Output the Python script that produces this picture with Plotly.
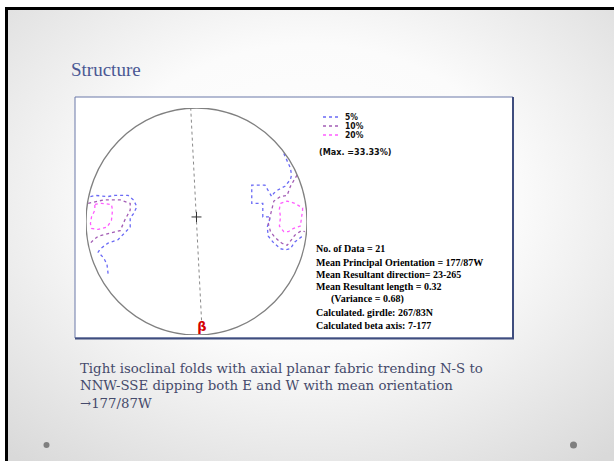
import base64
import numpy as np
import plotly.graph_objects as go

W, H = 614, 461

# ---------------- text content ----------------
title_text = "Structure"
legend_labels = ["5%", "10%", "20%"]
legend_colors = ["#6a6af5", "#a35db5", "#ff5cff"]
max_label = "(Max. =33.33%)"
stats_lines = [
    "No. of Data = 21",
    "Mean Principal Orientation = 177/87W",
    "Mean Resultant direction= 23-265",
    "Mean Resultant length = 0.32",
    "(Variance = 0.68)",
    "Calculated. girdle: 267/83N",
    "Calculated beta axis: 7-177",
]
body_lines = [
    "Tight isoclinal folds with axial planar fabric trending N-S to",
    "NNW-SSE dipping both E and W with mean orientation",
    "\u2192177/87W",
]

# ---------------- stereonet data (x = East, y = North, % of primitive radius) ----------------
c5_w_x = [-96, -92, -80, -74, -62, -57, -54, -57, -60, -60, -65, -71, -80, -87, -89, -84, -81, -80]
c5_w_y = [22, 23, 22, 23, 23, 19, 13, 7, 3, -5, -10, -16, -19, -24, -27, -32, -38, -46]
c10_w_x = [-98, -84, -69, -60, -60, -65, -69, -78, -89, -93, -96]
c10_w_y = [16, 19, 19, 16, 10, 1, -8, -10, -13, -16, -19]
c20_w_x = [-92, -86, -77, -76, -77, -81, -89, -95, -96, -95, -92, -92]
c20_w_y = [15, 16, 15, 10, 1, -5, -7, -6, -2, 4, 10, 15]

c5_e_x = [79, 82, 85, 86, 85, 80, 74, 70, 68, 62, 50, 50, 60, 60, 67, 64, 65, 70, 76, 80, 85, 89, 97]
c5_e_y = [60, 54, 47, 41, 37, 31, 28, 25, 22, 32, 32, 16, 16, 4, 4, -5, -13, -19, -24, -25, -24, -18, -12]
c10_e_x = [91, 87, 85, 82, 76, 70, 68, 65, 67, 71, 77, 82, 86, 89, 95, 98]
c10_e_y = [41, 34, 31, 23, 22, 18, 10, -2, -9, -14, -19, -21, -16, -12, -8, -9]
c20_e_x = [76, 82, 89, 96, 96, 95, 94, 88, 83, 79, 75, 76, 75, 76]
c20_e_y = [16, 18, 16, 12, 10, 3, -4, -6, -9, -9, -4, 4, 11, 16]

axial_strike = 177          # mean principal orientation 177/87W
beta_trend, beta_plunge = 177, 7


def px(x):
    return x / W


def py(y):
    return 1 - y / H


def schmidt(trend, plunge):
    r = 100 * np.sqrt(2) * np.sin(np.radians(90 - plunge) / 2)
    return r * np.sin(np.radians(trend)), r * np.cos(np.radians(trend))


fig = go.Figure()

# contours
contours = [
    (c5_w_x, c5_w_y, legend_colors[0]),
    (c5_e_x, c5_e_y, legend_colors[0]),
    (c10_w_x, c10_w_y, legend_colors[1]),
    (c10_e_x, c10_e_y, legend_colors[1]),
    (c20_w_x, c20_w_y, legend_colors[2]),
    (c20_e_x, c20_e_y, legend_colors[2]),
]
for cx, cy, col in contours:
    fig.add_trace(go.Scatter(x=cx, y=cy, mode="lines",
                             line=dict(color=col, width=1.3, dash="dot"),
                             hoverinfo="skip", showlegend=False))

# axial plane trace (straight, from beyond North down to beta)
bx, by = schmidt(beta_trend, beta_plunge)
top_az = (axial_strike + 180) % 360
tx, ty = 111 * np.sin(np.radians(top_az)), 111 * np.cos(np.radians(top_az))
fig.add_trace(go.Scatter(x=[tx, bx * 0.93], y=[ty, by * 0.93], mode="lines",
                         line=dict(color="#8a8a8a", width=1, dash="dot"),
                         hoverinfo="skip", showlegend=False))
fig.add_trace(go.Scatter(x=[bx], y=[by], mode="text", text=["<b>\u03b2</b>"],
                         textfont=dict(color="#d40000", size=13, family="DejaVu Sans"),
                         textposition="middle center",
                         hoverinfo="skip", showlegend=False))

# ---------------- background ----------------
svg = ('<svg xmlns="http://www.w3.org/2000/svg" width="609" height="454">'
       '<defs><radialGradient id="g" cx="50%" cy="42%" r="75%">'
       '<stop offset="0" stop-color="#ffffff"/><stop offset="0.45" stop-color="#fbfbfb"/>'
       '<stop offset="1" stop-color="#d9d9d9"/></radialGradient></defs>'
       '<rect width="609" height="454" fill="url(#g)"/></svg>')
src = "data:image/svg+xml;base64," + base64.b64encode(svg.encode()).decode()
images = [dict(source=src, xref="paper", yref="paper", x=px(5), y=py(7),
               sizex=1 - px(5), sizey=py(7), sizing="stretch", layer="below",
               xanchor="left", yanchor="top")]

shapes = []
# slide black frame
shapes.append(dict(type="line", xref="paper", yref="paper", x0=px(5), x1=1.01,
                   y0=py(8.5), y1=py(8.5), line=dict(color="#000", width=3), layer="below"))
shapes.append(dict(type="line", xref="paper", yref="paper", x0=px(6.5), x1=px(6.5),
                   y0=py(7), y1=-0.01, line=dict(color="#000", width=3), layer="below"))
# picture box
shapes.append(dict(type="rect", xref="paper", yref="paper", x0=px(75), x1=px(513),
                   y0=py(338), y1=py(97), fillcolor="#ffffff",
                   line=dict(color="#6b78a8", width=1), layer="below"))
shapes.append(dict(type="line", xref="paper", yref="paper", x0=px(513), x1=px(513),
                   y0=py(338), y1=py(97), line=dict(color="#3f4d7e", width=2), layer="below"))
shapes.append(dict(type="line", xref="paper", yref="paper", x0=px(75), x1=px(514),
                   y0=py(338.5), y1=py(338.5), line=dict(color="#3f4d7e", width=2), layer="below"))
# primitive circle
shapes.append(dict(type="circle", xref="x", yref="y", x0=-100, x1=100, y0=-100, y1=100,
                   line=dict(color="#808080", width=1.3)))
# centre cross and north tick
shapes.append(dict(type="line", xref="x", yref="y", x0=-4.5, x1=4.5, y0=4, y1=4,
                   line=dict(color="#333", width=1)))
shapes.append(dict(type="line", xref="x", yref="y", x0=0, x1=0, y0=-0.5, y1=8.5,
                   line=dict(color="#333", width=1)))
shapes.append(dict(type="line", xref="x", yref="y", x0=0, x1=0, y0=100, y1=104,
                   line=dict(color="#555", width=1)))
# legend samples
for i, col in enumerate(legend_colors):
    yy = 117 + 9 * i
    shapes.append(dict(type="line", xref="paper", yref="paper", x0=px(323), x1=px(341),
                       y0=py(yy), y1=py(yy), line=dict(color=col, width=1.4, dash="dot")))
# bottom bullets
for bx_, r_ in [(46.5, 3), (573.5, 3.5)]:
    shapes.append(dict(type="circle", xref="paper", yref="paper",
                       x0=px(bx_ - r_), x1=px(bx_ + r_), y0=py(445 + r_), y1=py(445 - r_),
                       fillcolor="#7f7f7f", line=dict(width=0)))

annotations = []
annotations.append(dict(text=title_text, xref="paper", yref="paper", x=px(69), y=py(70),
                        xanchor="left", yanchor="middle", showarrow=False,
                        font=dict(family="Liberation Serif", size=19, color="#4a5894")))
narrow = "Liberation Sans Narrow, DejaVu Sans Condensed, Arial Narrow, sans-serif"
for i, lab in enumerate(legend_labels):
    annotations.append(dict(text="<b>" + lab + "</b>", xref="paper", yref="paper",
                            x=px(343), y=py(117 + 9 * i),
                            xanchor="left", yanchor="middle", showarrow=False,
                            font=dict(family=narrow, size=8.5, color="#111")))
annotations.append(dict(text="<b>" + max_label + "</b>", xref="paper", yref="paper",
                        x=px(317), y=py(152),
                        xanchor="left", yanchor="middle", showarrow=False,
                        font=dict(family=narrow, size=9, color="#111")))
stat_y = [249, 262, 274, 286.5, 299, 312, 325]
for i, line in enumerate(stats_lines):
    xx = 329 if line.startswith("(") else 314
    annotations.append(dict(text="<b>" + line + "</b>", xref="paper", yref="paper",
                            x=px(xx), y=py(stat_y[i]), xanchor="left", yanchor="middle",
                            showarrow=False,
                            font=dict(family="Liberation Serif", size=10, color="#000")))
# body paragraph as one multi-line text block
annotations.append(dict(text="<br>".join(body_lines), xref="paper", yref="paper",
                        x=px(79), y=py(360), xanchor="left", yanchor="top", align="left",
                        showarrow=False, borderpad=0,
                        font=dict(family="DejaVu Serif", size=13.3, color="#454a6b")))

fig.update_layout(
    width=W, height=H, margin=dict(l=0, r=0, t=0, b=0),
    paper_bgcolor="#ffffff", plot_bgcolor="rgba(0,0,0,0)",
    xaxis=dict(domain=[px(86), px(307)], range=[-100, 100], visible=False, fixedrange=True),
    yaxis=dict(domain=[py(335), py(108)], range=[-100, 100], visible=False, fixedrange=True),
    shapes=shapes, annotations=annotations, images=images, showlegend=False,
)

fig.write_html("out.html", config={"displayModeBar": False},
               post_script="document.body.style.margin='0';")
